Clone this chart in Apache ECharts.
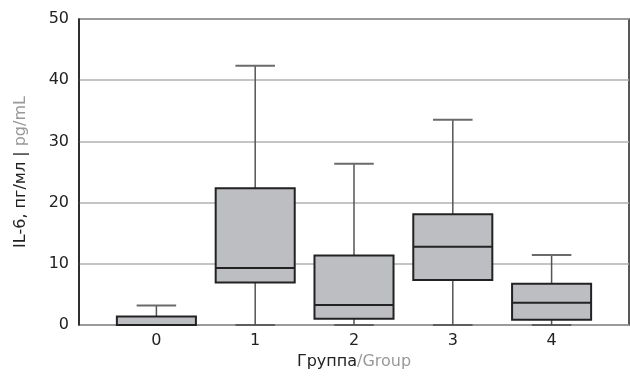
<!DOCTYPE html>
<html>
<head>
<meta charset="utf-8">
<script src="https://cdn.jsdelivr.net/npm/echarts@6/dist/echarts.min.js"></script>
<style>html,body{margin:0;padding:0;background:#fff}#c{width:630px;height:376px}</style>
</head>
<body>
<div id="c"></div>
<script>
var categories = ['0', '1', '2', '3', '4'];
var lowWhisker = [0, 0, 0, 0, 0];
var q1 = [0, 6.95, 1.03, 7.34, 0.86];
var median = [0, 9.3, 3.26, 12.77, 3.64];
var q3 = [1.4, 22.35, 11.35, 18.1, 6.74];
var highWhisker = [3.2, 42.35, 26.36, 33.54, 11.42];
var yTicks = [0, 10, 20, 30, 40, 50];

var rows = categories.map(function (c, i) {
  return [i, lowWhisker[i], q1[i], median[i], q3[i], highWhisker[i]];
});

var FONT = 'DejaVu Sans';
var FS = 16;
var chart = echarts.init(document.getElementById('c'), null, {renderer: 'canvas'});

function renderItem(params, api) {
  var idx = api.value(0);
  var lo = api.coord([idx, api.value(1)]);
  var a = api.coord([idx, api.value(2)]);
  var m = api.coord([idx, api.value(3)]);
  var b = api.coord([idx, api.value(4)]);
  var hi = api.coord([idx, api.value(5)]);
  var band = api.size([1, 0])[0];
  var bw = band * 0.8;
  var cw = bw / 2;
  var x = lo[0];
  var children = [];
  var wStyle = {stroke: '#555', lineWidth: 1.5};
  var cStyle = {stroke: '#6a6a6a', lineWidth: 2};
  children.push({type: 'line', shape: {x1: x, y1: b[1], x2: x, y2: hi[1]}, style: wStyle});
  children.push({type: 'line', shape: {x1: x - cw / 2, y1: hi[1], x2: x + cw / 2, y2: hi[1]}, style: cStyle});
  if (Math.abs(a[1] - lo[1]) > 0.5) {
    children.push({type: 'line', shape: {x1: x, y1: lo[1], x2: x, y2: a[1]}, style: wStyle});
  }
  children.push({type: 'line', shape: {x1: x - cw / 2, y1: lo[1], x2: x + cw / 2, y2: lo[1]}, style: {stroke: '#4a4a4a', lineWidth: 1.5}});
  children.push({type: 'rect', shape: {x: x - bw / 2, y: b[1], width: bw, height: a[1] - b[1]},
    style: {fill: '#bdbec2', stroke: '#222', lineWidth: 2}});
  children.push({type: 'line', shape: {x1: x - bw / 2, y1: m[1], x2: x + bw / 2, y2: m[1]}, style: {stroke: '#222', lineWidth: 2}});
  return {type: 'group', children: children};
}

var option = {
  animation: false,
  backgroundColor: '#fff',
  textStyle: {fontFamily: FONT},
  grid: [
    {left: 79, top: 19, right: 1, bottom: 51, show: true, borderColor: '#222', borderWidth: 1.5, backgroundColor: 'transparent'},
    {left: 107, top: 19, right: 29, bottom: 51}
  ],
  xAxis: [
    {gridIndex: 0, type: 'category', data: [''], show: false},
    {gridIndex: 1, type: 'category', data: categories, boundaryGap: true,
      axisLine: {show: false}, axisTick: {show: false},
      axisLabel: {color: '#222', fontSize: FS, margin: 8, fontFamily: FONT},
      name: '{a|Группа}{b|/Group}', nameLocation: 'middle', nameGap: 27,
      nameTextStyle: {rich: {a: {color: '#222', fontSize: FS, fontFamily: FONT}, b: {color: '#999', fontSize: FS, fontFamily: FONT}}}
    }
  ],
  yAxis: [
    {gridIndex: 0, type: 'value', min: yTicks[0], max: yTicks[yTicks.length - 1], interval: 10,
      axisLine: {show: true, lineStyle: {color: '#222', width: 1.5}},
      axisTick: {show: false},
      axisLabel: {color: '#222', fontSize: FS, margin: 10, fontFamily: FONT},
      splitLine: {show: true, lineStyle: {color: '#b0b0b0', width: 1.5}},
      name: '{a|IL-6, пг/мл | }{b|pg/mL}', nameLocation: 'middle', nameGap: 50, nameRotate: 90,
      nameTextStyle: {rich: {a: {color: '#222', fontSize: FS, fontFamily: FONT}, b: {color: '#999', fontSize: FS, fontFamily: FONT}}}
    },
    {gridIndex: 1, type: 'value', min: yTicks[0], max: yTicks[yTicks.length - 1], show: false}
  ],
  series: [{
    type: 'custom',
    xAxisIndex: 1,
    yAxisIndex: 1,
    renderItem: renderItem,
    encode: {x: 0, y: [1, 2, 3, 4, 5]},
    data: rows,
    z: 5
  }]
};
chart.setOption(option);
</script>
</body>
</html>
